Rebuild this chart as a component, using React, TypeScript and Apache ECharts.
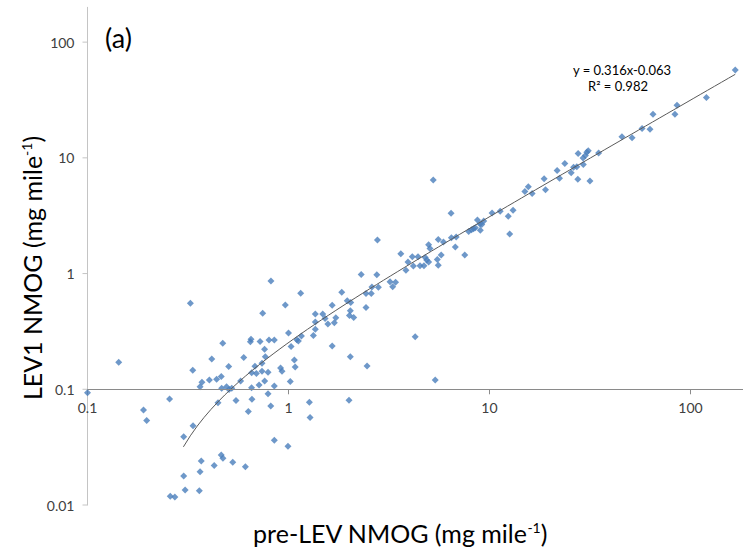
import React, { useEffect, useRef } from "react";
import * as echarts from "echarts";

// pre-LEV NMOG (mg mile-1), x values
const preLEV = [
  0.100, 0.143, 0.190, 0.197, 0.256, 0.258, 0.272, 0.301, 0.301, 0.306,
  0.325, 0.334, 0.335, 0.360, 0.363, 0.363, 0.368, 0.371, 0.404, 0.415,
  0.427, 0.439, 0.446, 0.463, 0.463, 0.472, 0.471, 0.465, 0.492, 0.506,
  0.522, 0.504, 0.528, 0.548, 0.578, 0.599, 0.610, 0.631, 0.646, 0.651,
  0.656, 0.655, 0.658, 0.681, 0.692, 0.714, 0.722, 0.738, 0.738, 0.744,
  0.760, 0.761, 0.767, 0.791, 0.791, 0.800, 0.816, 0.818, 0.850, 0.850,
  0.850, 0.913, 0.928, 0.964, 0.994, 1.00, 1.02, 1.03, 1.07, 1.08,
  1.10, 1.12, 1.16, 1.15, 1.27, 1.28, 1.33, 1.36, 1.36, 1.36,
  1.48, 1.52, 1.57, 1.65, 1.65, 1.69, 1.72, 1.84, 1.96, 2.04,
  2.03, 2.01, 2.11, 2.03, 2.00, 2.30, 2.43, 2.58, 2.43, 2.46,
  2.60, 2.75, 2.80, 2.77, 3.20, 3.30, 3.41, 3.62, 3.84, 3.93,
  4.13, 4.18, 4.41, 4.51, 4.72, 4.27, 4.79, 4.87, 4.98, 4.98,
  5.06, 5.25, 5.37, 5.50, 5.56, 5.56, 5.75, 5.90, 6.44, 6.46,
  6.83, 6.76, 7.53, 7.88, 8.14, 8.33, 8.50, 8.71, 8.97, 9.36,
  9.15, 9.00, 10.3, 11.3, 12.4, 13.1, 12.6, 15.0, 15.6, 16.3,
  18.7, 19.0, 21.7, 22.3, 23.7, 25.5, 26.2, 27.2, 27.5, 27.6,
  29.3, 29.2, 30.0, 30.5, 31.0, 31.6, 34.9, 45.6, 51.2, 57.4,
  62.9, 65.1, 83.7, 85.7, 120, 167,
];

// LEV1 NMOG (mg mile-1), y values
const lev1 = [
  0.0935, 0.171, 0.0662, 0.0537, 0.0824, 0.0119, 0.0117, 0.0389, 0.0178, 0.0135,
  0.554, 0.146, 0.0485, 0.0133, 0.0194, 0.105, 0.024, 0.115, 0.120, 0.183,
  0.0219, 0.122, 0.0766, 0.129, 0.0271, 0.0253, 0.250, 0.102, 0.105, 0.0996,
  0.102, 0.157, 0.0234, 0.080, 0.118, 0.188, 0.0214, 0.0643, 0.258, 0.271,
  0.139, 0.103, 0.0821, 0.158, 0.137, 0.109, 0.259, 0.168, 0.143, 0.454,
  0.222, 0.118, 0.191, 0.140, 0.0916, 0.267, 0.0717, 0.863, 0.267, 0.107,
  0.0362, 0.153, 0.143, 0.535, 0.0322, 0.307, 0.117, 0.234, 0.179, 0.156,
  0.268, 0.262, 0.288, 0.676, 0.0772, 0.0571, 0.291, 0.330, 0.382, 0.447,
  0.447, 0.408, 0.367, 0.532, 0.237, 0.376, 0.416, 0.689, 0.582, 0.563,
  0.478, 0.434, 0.417, 0.191, 0.0803, 0.982, 0.671, 0.671, 0.509, 0.159,
  0.766, 0.978, 0.763, 1.95, 0.851, 0.771, 0.841, 1.48, 1.07, 1.26,
  1.40, 1.16, 1.40, 1.17, 1.17, 0.285, 1.38, 1.31, 1.26, 1.77,
  1.65, 6.44, 0.120, 1.32, 1.18, 1.97, 1.45, 1.87, 3.32, 2.04,
  2.07, 1.70, 1.45, 2.31, 2.39, 2.44, 2.49, 2.91, 2.68, 2.85,
  2.65, 2.37, 3.34, 3.46, 3.13, 3.53, 2.20, 5.12, 5.64, 4.91,
  6.61, 5.31, 7.78, 6.66, 8.95, 7.43, 8.31, 8.39, 6.53, 10.9,
  8.77, 9.98, 10.5, 11.2, 11.5, 6.31, 11.0, 15.2, 14.9, 17.9,
  17.7, 23.8, 23.8, 28.5, 33.3, 57.5,
];

const X_TICKS = [0.1, 1, 10, 100];
const X_TICK_LABELS = ["0.1", "1", "10", "100"];
const Y_TICKS = [0.01, 0.1, 1, 10, 100];
const Y_TICK_LABELS = ["0.01", "0.1", "1", "10", "100"];

const X_MIN = 0.1;
const X_MAX = 200;
const Y_MIN = 0.01;
const Y_MAX = 200;
const X_AXIS_CROSS_Y = 0.1;

// Linear trendline as reported on the chart
const TREND_SLOPE = 0.316;
const TREND_INTERCEPT = -0.063;
const TREND_X_START = 0.3;
const EQUATION_TEXT = "y = 0.316x-0.063";
const R2_TEXT = "R\u00B2 = 0.982";
const PANEL_LABEL = "(a)";

const FONT = "Lato";

export default function App() {
  const ref = useRef<HTMLDivElement>(null);

  useEffect(() => {
    if (!ref.current) return;
    const chart = echarts.init(ref.current, undefined, { renderer: "svg" });

    const scatterData = preLEV.map((x, i) => [x, lev1[i]]);

    const xEnd = Math.max(...preLEV);
    const nTrend = 80;
    const trendData: number[][] = [];
    const l0 = Math.log10(TREND_X_START);
    const l1 = Math.log10(xEnd);
    for (let i = 0; i <= nTrend; i++) {
      const x = Math.pow(10, l0 + ((l1 - l0) * i) / nTrend);
      const y = TREND_SLOPE * x + TREND_INTERCEPT;
      if (y > 0) trendData.push([x, y]);
    }

    const option: any = {
      animation: false,
      grid: {
        left: 87.5,
        top: 7.3,
        bottom: 52,
        right: -8,
        containLabel: false,
        outerBoundsMode: "none",
      },
      xAxis: {
        type: "log",
        logBase: 10,
        min: X_MIN,
        max: X_MAX,
        axisLine: { show: false, onZero: false },
        axisTick: { show: false },
        axisLabel: { show: false },
        splitLine: { show: false },
      },
      yAxis: {
        type: "log",
        logBase: 10,
        min: Y_MIN,
        max: Y_MAX,
        axisLine: { show: true, onZero: false, lineStyle: { color: "#c4c4c4", width: 1 } },
        axisTick: { show: false },
        axisLabel: { show: false },
        splitLine: { show: false },
      },
      series: [
        {
          type: "scatter",
          data: scatterData,
          symbol: "diamond",
          symbolSize: 7,
          itemStyle: { color: "#4a7ebb" },
          z: 3,
          markLine: {
            silent: true,
            symbol: "none",
            label: { show: false },
            lineStyle: { color: "#8a8a8a", width: 1, type: "solid" },
            data: [{ yAxis: X_AXIS_CROSS_Y }],
          },
        },
        {
          type: "line",
          data: trendData,
          showSymbol: false,
          symbol: "none",
          lineStyle: { color: "#5a5a5a", width: 1 },
          z: 4,
        },
        {
          type: "custom",
          data: X_TICKS.map((v, i) => [v, X_AXIS_CROSS_Y, i]),
          z: 2,
          renderItem: (params: any, api: any) => {
            const p = api.coord([api.value(0), api.value(1)]);
            const idx = api.value(2);
            return {
              type: "group",
              children: [
                {
                  type: "line",
                  shape: { x1: p[0], y1: p[1], x2: p[0], y2: p[1] + 5 },
                  style: { stroke: "#8a8a8a", lineWidth: 1 },
                },
                {
                  type: "text",
                  x: p[0],
                  y: p[1] + 18,
                  style: {
                    text: X_TICK_LABELS[idx],
                    align: "center",
                    verticalAlign: "middle",
                    fontSize: 14,
                    fontFamily: FONT,
                    fill: "#404040",
                  },
                },
              ],
            };
          },
        },
        {
          type: "custom",
          data: Y_TICKS.map((v, i) => [X_MIN, v, i]),
          z: 2,
          renderItem: (params: any, api: any) => {
            const p = api.coord([api.value(0), api.value(1)]);
            const idx = api.value(2);
            return {
              type: "group",
              children: [
                {
                  type: "line",
                  shape: { x1: p[0] - 5, y1: p[1], x2: p[0], y2: p[1] },
                  style: { stroke: "#c4c4c4", lineWidth: 1 },
                },
                {
                  type: "text",
                  x: p[0] - 13,
                  y: p[1],
                  style: {
                    text: Y_TICK_LABELS[idx],
                    align: "right",
                    verticalAlign: "middle",
                    fontSize: 14,
                    fontFamily: FONT,
                    fill: "#404040",
                  },
                },
              ],
            };
          },
        },
      ],
      graphic: [
        {
          type: "text",
          x: 105,
          y: 37,
          style: {
            text: PANEL_LABEL,
            fontSize: 27,
            fontFamily: FONT,
            fill: "#000",
            align: "left",
            verticalAlign: "middle",
          },
        },
        {
          type: "text",
          x: 622,
          y: 70,
          style: {
            text: EQUATION_TEXT,
            fontSize: 13,
            lineHeight: 13,
            fontFamily: FONT,
            fill: "#000",
            align: "center",
            verticalAlign: "middle",
          },
        },
        {
          type: "text",
          x: 618,
          y: 86,
          style: {
            text: R2_TEXT,
            fontSize: 13,
            lineHeight: 13,
            fontFamily: FONT,
            fill: "#000",
            align: "center",
            verticalAlign: "middle",
          },
        },
        {
          type: "text",
          x: 400,
          y: 533,
          style: {
            text: "{n|pre-LEV NMOG (mg mile}{s|-1}{n|)}",
            align: "center",
            verticalAlign: "middle",
            rich: {
              n: { fontSize: 25, fontFamily: FONT, fill: "#000", color: "#000" },
              s: { fontSize: 14, fontFamily: FONT, fill: "#000", color: "#000", verticalAlign: "top" },
            },
          },
        },
        {
          type: "text",
          x: 32,
          y: 268,
          rotation: Math.PI / 2,
          style: {
            text: "{n|LEV1 NMOG (mg mile}{s|-1}{n|)}",
            align: "center",
            verticalAlign: "middle",
            rich: {
              n: { fontSize: 25, fontFamily: FONT, fill: "#000", color: "#000" },
              s: { fontSize: 14, fontFamily: FONT, fill: "#000", color: "#000", verticalAlign: "top" },
            },
          },
        },
      ],
    };

    chart.setOption(option);
    return () => {
      chart.dispose();
    };
  }, []);

  return (
    <div
      ref={ref}
      style={{ position: "fixed", left: 0, top: 0, width: 743, height: 557, background: "#fff" }}
    />
  );
}
